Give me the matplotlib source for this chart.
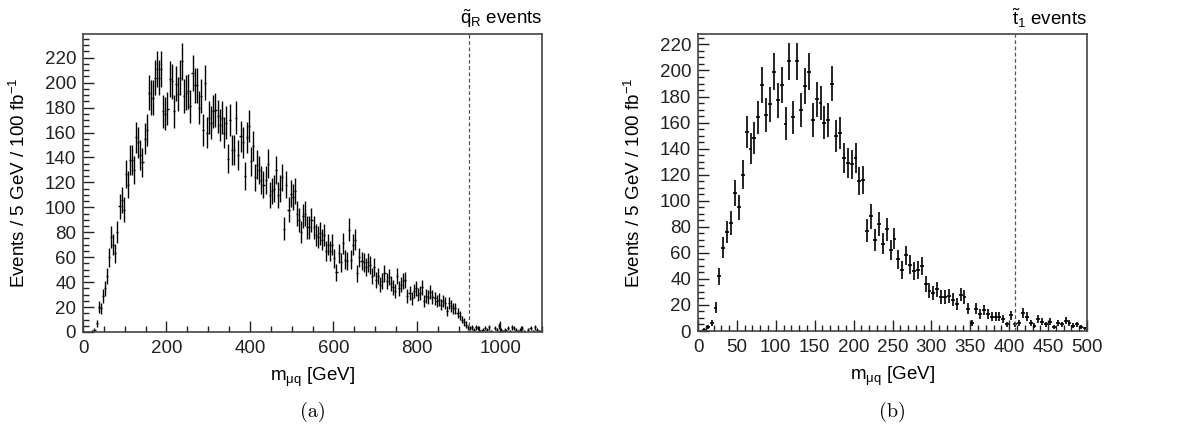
import matplotlib
matplotlib.use('Agg')
import matplotlib.pyplot as plt
from matplotlib.ticker import MultipleLocator
import numpy as np

plt.rcParams['font.family'] = ['Liberation Sans', 'DejaVu Sans']
plt.rcParams['mathtext.fontset'] = 'custom'
plt.rcParams['mathtext.rm'] = 'Liberation Sans'
plt.rcParams['mathtext.it'] = 'Liberation Sans:italic'

# squark sample, 5 GeV bins from 0 to 1100 GeV
sq_counts = [
    0, 0, 0, 0, 1, 2, 7, 20, 19, 29,
    35, 45, 60, 76, 70, 63, 80, 101, 106, 98,
    127, 118, 138, 138, 130, 156, 152, 142, 136, 155,
    162, 192, 188, 188, 204, 211, 204, 211, 177, 175,
    179, 203, 201, 177, 199, 191, 204, 217, 189, 192,
    193, 181, 208, 198, 198, 180, 189, 162, 200, 160,
    172, 168, 177, 178, 173, 166, 172, 160, 168, 139,
    170, 146, 146, 172, 142, 157, 152, 125, 156, 165,
    137, 149, 124, 134, 130, 122, 118, 122, 135, 110,
    113, 115, 130, 110, 115, 124, 83, 118, 98, 111,
    108, 113, 95, 90, 80, 93, 95, 84, 84, 90,
    84, 78, 76, 79, 74, 78, 65, 70, 65, 70,
    59, 48, 63, 56, 71, 58, 57, 82, 58, 70,
    74, 47, 60, 57, 56, 52, 56, 54, 45, 52,
    42, 45, 38, 41, 47, 41, 44, 39, 36, 33,
    45, 35, 38, 41, 42, 29, 31, 27, 33, 35,
    30, 31, 36, 25, 29, 28, 32, 28, 27, 25,
    26, 22, 25, 23, 17, 23, 21, 19, 19, 15,
    13, 10, 8, 6, 4, 3, 4, 2, 4, 3,
    1, 2, 3, 2, 4, 1, 0, 3, 2, 5,
    2, 1, 2, 3, 1, 4, 3, 2, 1, 2,
    3, 1, 0, 2, 3, 1, 4, 2, 1, 1,
]

# stop sample, 5 GeV bins from 0 to 500 GeV
st_counts = [
    0, 1, 3, 6, 18, 42, 64, 76, 83, 106,
    95, 120, 153, 140, 148, 164, 189, 166, 174, 199,
    177, 189, 159, 207, 164, 207, 170, 188, 199, 162,
    178, 175, 160, 162, 190, 150, 152, 133, 129, 128,
    133, 115, 116, 77, 88, 70, 82, 67, 78, 62,
    71, 55, 47, 58, 51, 46, 47, 50, 36, 31,
    29, 32, 26, 26, 27, 24, 21, 28, 26, 17,
    6, 17, 13, 16, 13, 11, 11, 11, 9, 5,
    12, 5, 6, 14, 11, 6, 4, 9, 7, 5,
    7, 3, 6, 5, 8, 6, 4, 5, 3, 2,
]

bin_w = 5.0
sq_endpoint = 925
st_endpoint = 407

W, H = 1181, 433
fig = plt.figure(figsize=(W / 100, H / 100), dpi=100)

ax1 = fig.add_axes([83 / W, 101 / H, 459 / W, 298 / H])
ax2 = fig.add_axes([698 / W, 102 / H, 389 / W, 297 / H])

FS = 13.5


def draw_panel(ax, counts, xmax, ymax, endpoint, label, caption,
               xmajor, xminor, lw):

    counts = np.array(counts, dtype=float)
    centers = bin_w * np.arange(len(counts)) + bin_w / 2
    keep = counts > 0

    ax.errorbar(
        centers[keep], counts[keep],
        xerr=bin_w / 2, yerr=np.sqrt(counts[keep]),
        fmt='none', ecolor='black', elinewidth=lw, capsize=0
    )

    ax.axvline(endpoint, color='#555555', lw=0.9, ls=(0, (3, 2)))

    ax.set_xlim(0, xmax)
    ax.set_ylim(0, ymax)

    ax.xaxis.set_major_locator(MultipleLocator(xmajor))
    ax.xaxis.set_minor_locator(MultipleLocator(xminor))
    ax.yaxis.set_major_locator(MultipleLocator(20))
    ax.yaxis.set_minor_locator(MultipleLocator(5))

    ax.tick_params(which='both', direction='in', top=False, right=False,
                   labelsize=FS, colors='#222222', width=1.0)
    ax.tick_params(which='major', length=8)
    ax.tick_params(which='minor', length=4)
    ax.tick_params(axis='x', pad=6)
    ax.tick_params(axis='y', pad=5)

    for sp in ax.spines.values():
        sp.set_color('#444444')
        sp.set_linewidth(1.2)

    ax.set_xlabel(r'$\mathrm{m_{\mu q}}$ [GeV]', fontsize=FS, labelpad=6)
    ax.set_ylabel(r'Events / 5 GeV / 100 fb$^{\mathrm{-1}}$', fontsize=FS,
                  labelpad=11)

    ax.text(1.0, 1.012, label, transform=ax.transAxes, ha='right',
            va='bottom', fontsize=FS)

    pos = ax.get_position()
    fig.text(pos.x0 + pos.width / 2, 0.048, caption, ha='center',
             va='center', fontsize=14.5, family='cmr10')


draw_panel(ax1, sq_counts, 1100, 239, sq_endpoint,
           r'$\mathrm{\tilde{q}_R}$ events', '(a)', 200, 50, 1.0)
draw_panel(ax2, st_counts, 500, 228, st_endpoint,
           r'$\mathrm{\tilde{t}_1}$ events', '(b)', 50, 10, 1.2)

plt.savefig('out.png', dpi=100)
